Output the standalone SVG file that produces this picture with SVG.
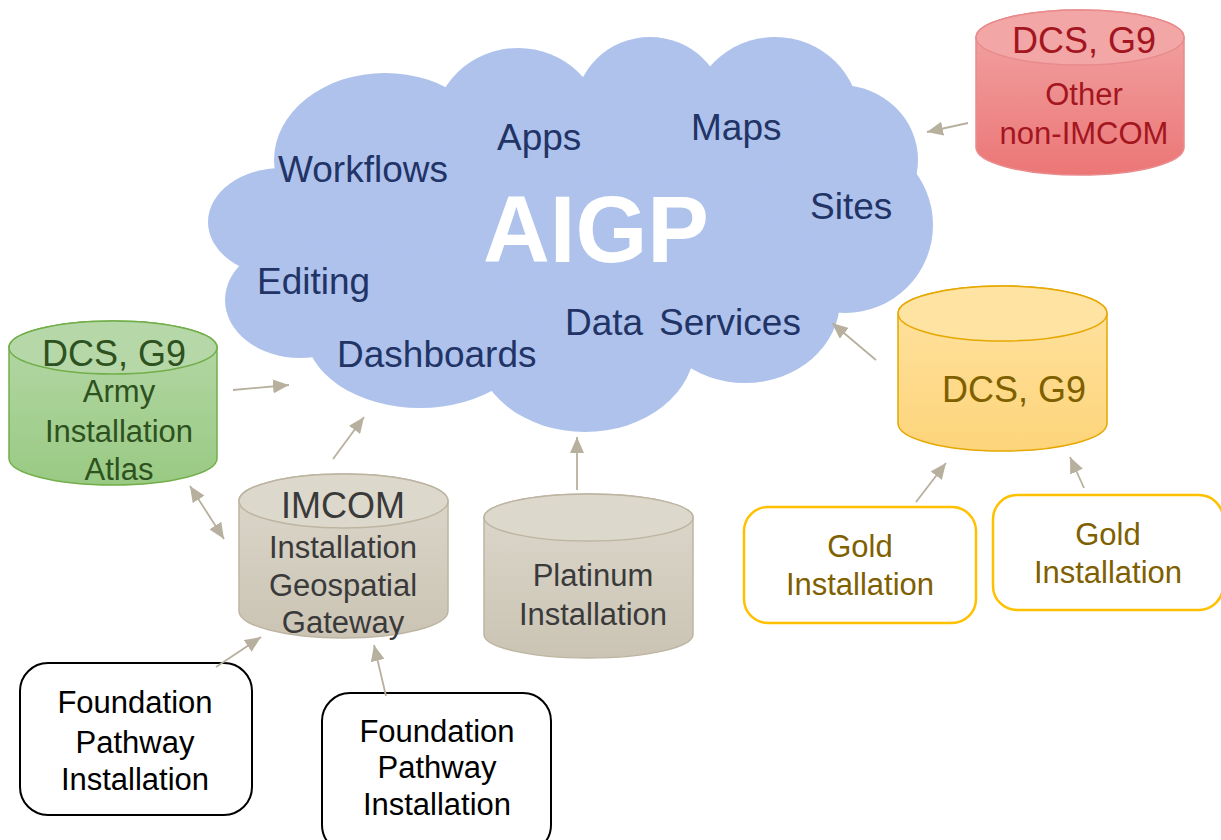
<svg xmlns="http://www.w3.org/2000/svg" width="1221" height="840" viewBox="0 0 1221 840">
<defs>
<style>
text{font-family:"Liberation Sans",Arial,sans-serif;}
.ct{fill:#223366;font-size:37px;}
.big{font-size:36px;text-anchor:middle;}
.mid{font-size:31px;text-anchor:middle;}
.cloud{fill:#AEC2EC;}
.conn{stroke:#B8B09E;stroke-width:1.8;fill:none;marker-end:url(#ah);}
.box{fill:#fff;}
</style>
<linearGradient id="gGreen" x1="0" y1="0" x2="0" y2="1"><stop offset="0" stop-color="#B6D8A8"/><stop offset="1" stop-color="#99CA83"/></linearGradient>
<linearGradient id="gGray" x1="0" y1="0" x2="0" y2="1"><stop offset="0" stop-color="#DCD8CC"/><stop offset="1" stop-color="#CBC4B4"/></linearGradient>
<linearGradient id="gYellow" x1="0" y1="0" x2="0" y2="1"><stop offset="0" stop-color="#FFE3A2"/><stop offset="1" stop-color="#FDD47A"/></linearGradient>
<linearGradient id="gRed" x1="0" y1="0" x2="0" y2="1"><stop offset="0" stop-color="#F2A6A6"/><stop offset="1" stop-color="#EC7676"/></linearGradient>
<marker id="ah" markerUnits="userSpaceOnUse" markerWidth="16" markerHeight="14" refX="16" refY="7" orient="auto"><path d="M0,0 L16,7 L0,14 Z" fill="#B8B09E"/></marker>
<marker id="ahs" markerUnits="userSpaceOnUse" markerWidth="16" markerHeight="14" refX="0" refY="7" orient="auto"><path d="M16,0 L0,7 L16,14 Z" fill="#B8B09E"/></marker>
</defs>
<rect width="1221" height="840" fill="#fff"/>

<g id="aigp-cloud">
<g class="cloud">
<polygon points="285,178 447,95 586,80 710,72 845,97 905,180 830,300 685,362 487,384 312,348 255,272"/>
<ellipse cx="282" cy="222" rx="74" ry="54"/>
<ellipse cx="385" cy="160" rx="111" ry="87"/>
<ellipse cx="518" cy="130" rx="85" ry="82"/>
<ellipse cx="650" cy="110" rx="75" ry="73"/>
<ellipse cx="775" cy="120" rx="85" ry="83"/>
<ellipse cx="840" cy="160" rx="78" ry="75"/>
<circle cx="845" cy="225" r="88"/>
<ellipse cx="745" cy="300" rx="95" ry="83"/>
<ellipse cx="585" cy="345" rx="110" ry="87"/>
<ellipse cx="420" cy="330" rx="115" ry="78"/>
<ellipse cx="300" cy="300" rx="75" ry="58"/>
</g>
<text x="483" y="262" font-size="94" font-weight="bold" fill="#fff" textLength="226" lengthAdjust="spacingAndGlyphs">AIGP</text>
<text class="ct" x="278" y="182">Workflows</text>
<text class="ct" x="497" y="150">Apps</text>
<text class="ct" x="691" y="140">Maps</text>
<text class="ct" x="810" y="219">Sites</text>
<text class="ct" x="257" y="294">Editing</text>
<text class="ct" x="337" y="367">Dashboards</text>
<text class="ct" x="565" y="335">Data</text>
<text class="ct" x="659" y="335">Services</text>
</g>

<g id="red-dcs">
<path d="M976,37.5 L976,147.5 A104 27.5 0 0 0 1184,147.5 L1184,37.5 A104 27.5 0 0 0 976,37.5 Z" fill="url(#gRed)" stroke="#E98B8D" stroke-width="1.5"/>
<ellipse cx="1080" cy="37.5" rx="104" ry="27.5" fill="#F2A6A6" stroke="#E98B8D" stroke-width="1.5"/>
<g fill="#A3161F"><text class="big" x="1084" y="53">DCS, G9</text>
<text class="mid" x="1084" y="105">Other</text>
<text class="mid" x="1084" y="144">non-IMCOM</text></g>
</g>

<g id="green-atlas">
<path d="M9,347.5 L9,458.5 A104 26.5 0 0 0 217,458.5 L217,347.5 A104 26.5 0 0 0 9,347.5 Z" fill="url(#gGreen)" stroke="#72AE4A" stroke-width="1.5"/>
<ellipse cx="113" cy="347.5" rx="104" ry="26.5" fill="#B6D8A8" stroke="#72AE4A" stroke-width="1.5"/>
<g fill="#2E5120"><text class="big" x="114" y="366">DCS, G9</text>
<text class="mid" x="119" y="402">Army</text>
<text class="mid" x="119" y="442">Installation</text>
<text class="mid" x="119" y="480">Atlas</text></g>
</g>

<g id="imcom-gateway">
<path d="M239,501 L239,611 A104.5 27 0 0 0 448,611 L448,501 A104.5 27 0 0 0 239,501 Z" fill="url(#gGray)" stroke="#BDB5A2" stroke-width="1.5"/>
<ellipse cx="343.5" cy="501" rx="104.5" ry="27" fill="#DCD8CC" stroke="#BDB5A2" stroke-width="1.5"/>
<g fill="#3A3A3A"><text class="big" x="343" y="518">IMCOM</text>
<text class="mid" x="343" y="558">Installation</text>
<text class="mid" x="343" y="596">Geospatial</text>
<text class="mid" x="343" y="633">Gateway</text></g>
</g>

<g id="platinum">
<path d="M484,517.5 L484,634.5 A104.5 23.5 0 0 0 693,634.5 L693,517.5 A104.5 23.5 0 0 0 484,517.5 Z" fill="url(#gGray)" stroke="#BDB5A2" stroke-width="1.5"/>
<ellipse cx="588.5" cy="517.5" rx="104.5" ry="23.5" fill="#DCD8CC" stroke="#BDB5A2" stroke-width="1.5"/>
<g fill="#3A3A3A"><text class="mid" x="593" y="586">Platinum</text>
<text class="mid" x="593" y="625">Installation</text></g>
</g>

<g id="yellow-dcs">
<path d="M898,313.5 L898,423.5 A104.5 27.5 0 0 0 1107,423.5 L1107,313.5 A104.5 27.5 0 0 0 898,313.5 Z" fill="url(#gYellow)" stroke="#E5A800" stroke-width="1.5"/>
<ellipse cx="1002.5" cy="313.5" rx="104.5" ry="27.5" fill="#FFE3A2" stroke="#E5A800" stroke-width="1.5"/>
<text class="big" x="1014" y="402" fill="#7F6000">DCS, G9</text>
</g>

<g id="gold-1">
<rect class="box" x="744" y="507" width="232" height="116" rx="24" stroke="#FFC000" stroke-width="2.5"/>
<g fill="#7F6000"><text class="mid" x="860" y="557">Gold</text>
<text class="mid" x="860" y="595">Installation</text></g>
</g>

<g id="gold-2">
<rect class="box" x="993" y="495" width="230" height="115" rx="24" stroke="#FFC000" stroke-width="2.5"/>
<g fill="#7F6000"><text class="mid" x="1108" y="545">Gold</text>
<text class="mid" x="1108" y="583">Installation</text></g>
</g>

<g id="foundation-1">
<rect class="box" x="20" y="663" width="232" height="152" rx="28" stroke="#000" stroke-width="2"/>
<g fill="#000"><text class="mid" x="135" y="713">Foundation</text>
<text class="mid" x="135" y="753">Pathway</text>
<text class="mid" x="135" y="790">Installation</text></g>
</g>

<g id="foundation-2">
<rect class="box" x="322" y="693" width="229" height="160" rx="28" stroke="#000" stroke-width="2"/>
<g fill="#000"><text class="mid" x="437" y="742">Foundation</text>
<text class="mid" x="437" y="778">Pathway</text>
<text class="mid" x="437" y="815">Installation</text></g>
</g>

<g id="connectors">
<line class="conn" x1="968" y1="123" x2="927" y2="132"/>
<line class="conn" x1="233" y1="390" x2="289" y2="385"/>
<line class="conn" x1="333" y1="459" x2="364" y2="417"/>
<line class="conn" x1="190" y1="486" x2="224" y2="539" marker-start="url(#ahs)"/>
<line class="conn" x1="216" y1="667" x2="261" y2="637"/>
<line class="conn" x1="386" y1="696" x2="374" y2="645"/>
<line class="conn" x1="577" y1="490" x2="577" y2="437"/>
<line class="conn" x1="876" y1="360" x2="832" y2="323"/>
<line class="conn" x1="916" y1="502" x2="946" y2="463"/>
<line class="conn" x1="1084" y1="488" x2="1070" y2="457"/>
</g>
</svg>
